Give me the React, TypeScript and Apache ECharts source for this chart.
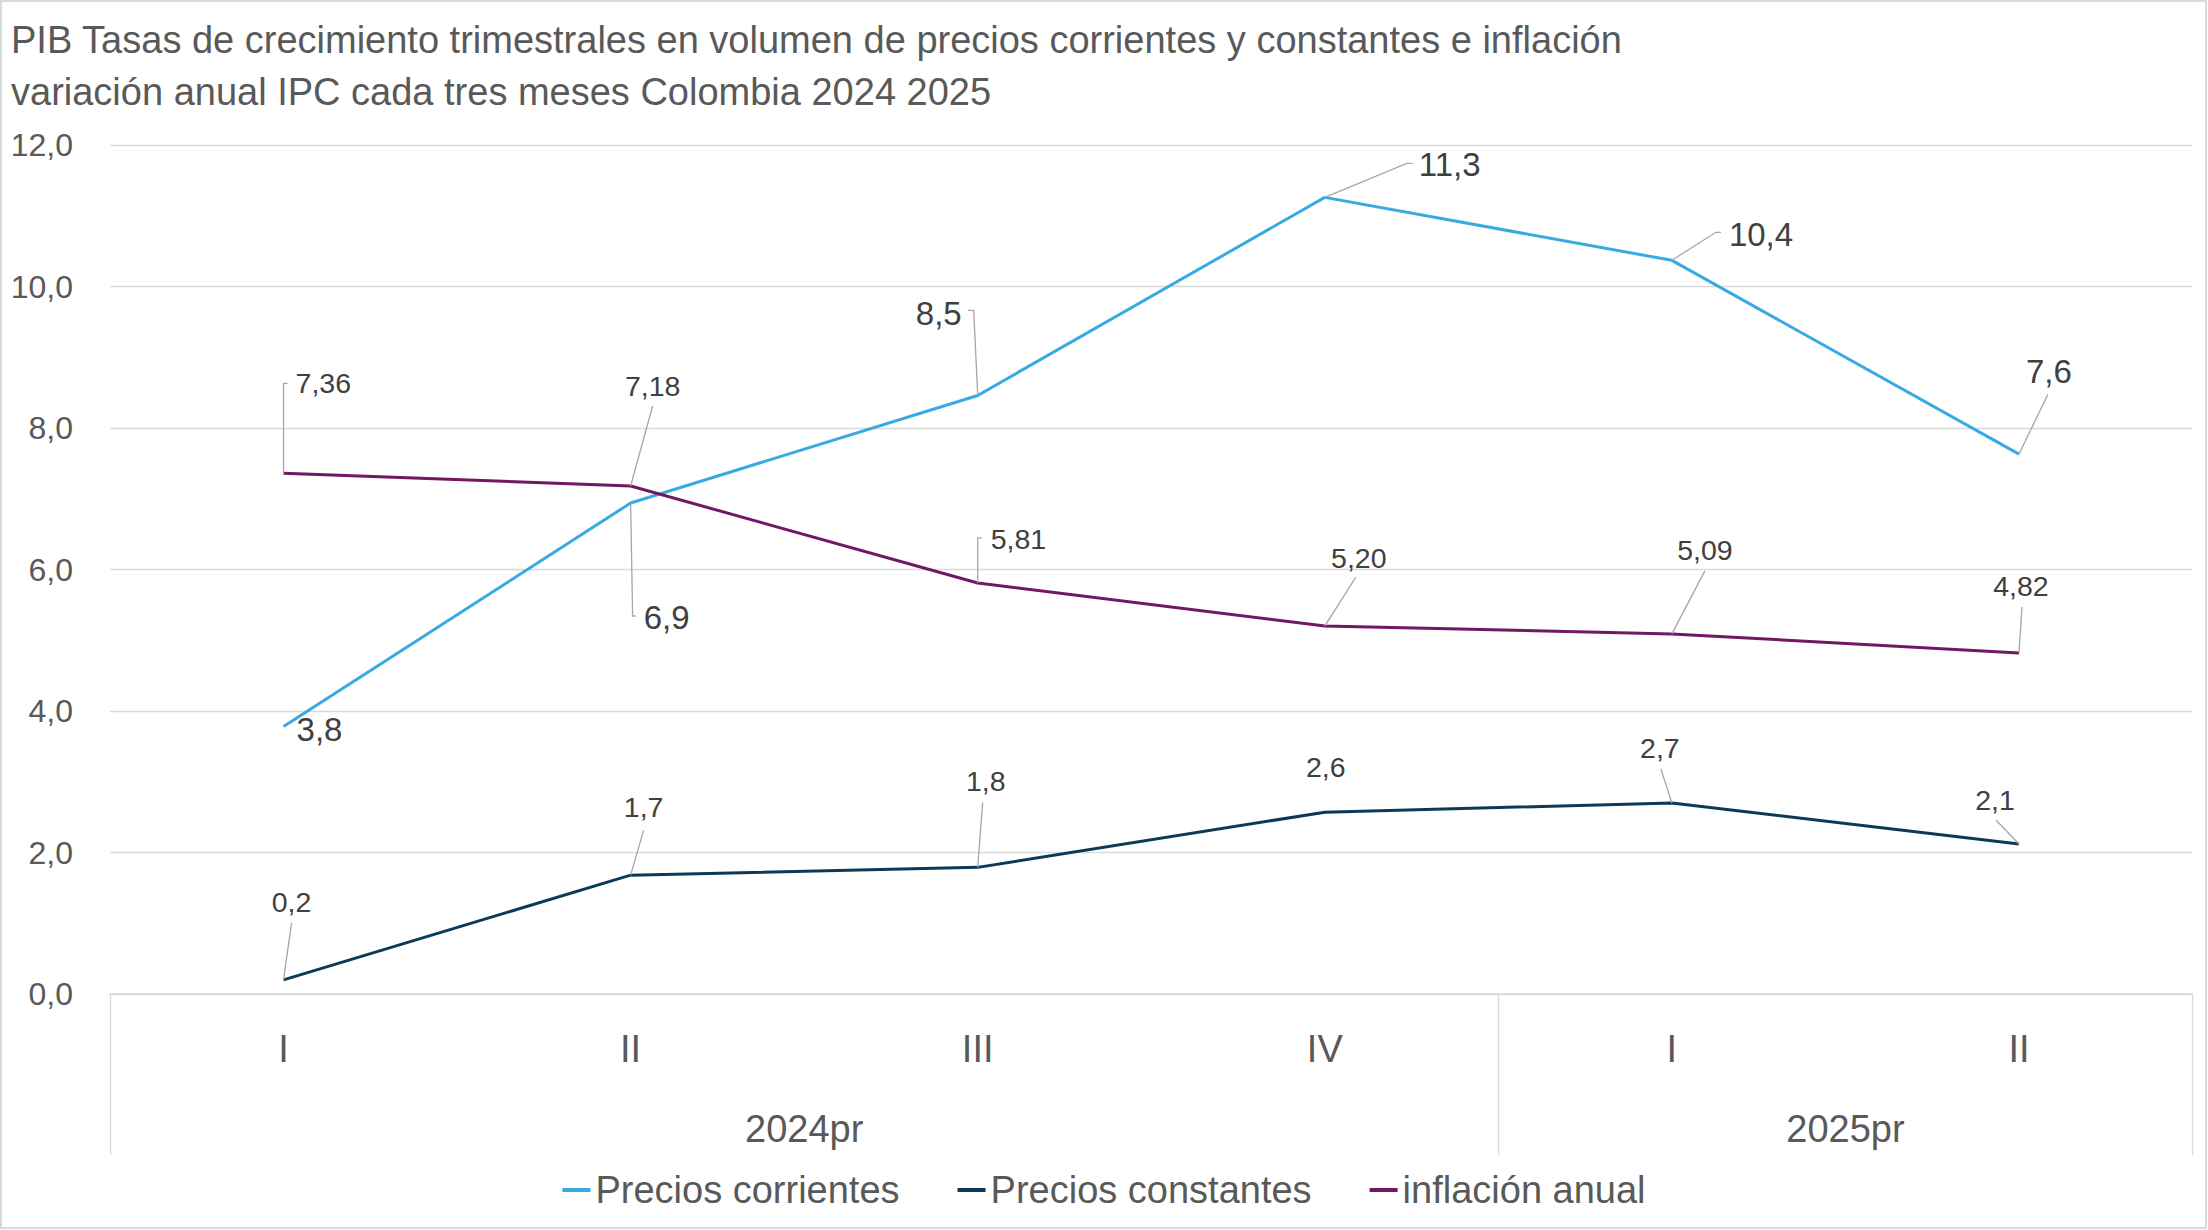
import React, { useEffect, useRef } from "react";
import * as echarts from "echarts";

// ---------- data ----------
const quarters = ["I", "II", "III", "IV", "I", "II"];
const yearGroups = ["2024pr", "2025pr"];
const yearSpans = [4, 2];
const seriesNames = ["Precios corrientes", "Precios constantes", "inflación anual"];
const preciosCorrientes = [3.78, 6.94, 8.46, 11.26, 10.37, 7.63];
const preciosConstantes = [0.2, 1.68, 1.79, 2.57, 2.7, 2.12];
const inflacionAnual = [7.36, 7.18, 5.81, 5.2, 5.09, 4.82];
const labelDecimals = [1, 1, 2];
const yMin = 0;
const yMax = 12;
const yInterval = 2;

const titleText =
  "PIB Tasas de crecimiento trimestrales en volumen de precios corrientes y constantes e inflación\nvariación anual IPC cada tres meses Colombia 2024 2025";

// ---------- styles / label layout (pixel offsets from each point) ----------
const FONT = "'Liberation Sans', Arial, sans-serif";
const colors = ["#39AAE1", "#0C3A56", "#701864"];
const labelFontSizes = [33, 28.5, 28.5];

type Lay = { tx: number; ty: number; align: "left" | "center" | "right"; leader?: number[][] };
const layouts: Lay[][] = [
  [
    { tx: 13, ty: 3, align: "left" },
    { tx: 13, ty: 115, align: "left", leader: [[0, 0], [2, 113], [5, 113]] },
    { tx: -16, ty: -82, align: "right", leader: [[0, 0], [-4, -85], [-10, -85]] },
    { tx: 94, ty: -33, align: "left", leader: [[0, 0], [82, -34], [88, -34]] },
    { tx: 57, ty: -26, align: "left", leader: [[0, 0], [44, -28], [49, -28]] },
    { tx: 30, ty: -83, align: "center", leader: [[0, 0], [29, -60]] },
  ],
  [
    { tx: 8, ty: -78, align: "center", leader: [[0, 0], [8, -57]] },
    { tx: 13, ty: -68, align: "center", leader: [[0, 0], [13, -45]] },
    { tx: 8, ty: -86, align: "center", leader: [[0, 0], [5, -65]] },
    { tx: 1, ty: -45, align: "center" },
    { tx: -12, ty: -55, align: "center", leader: [[0, 0], [-11, -34]] },
    { tx: -24, ty: -44, align: "center", leader: [[0, 0], [-23, -24]] },
  ],
  [
    { tx: 12, ty: -90, align: "left", leader: [[0, 0], [0, -90], [4, -90]] },
    { tx: 22, ty: -100, align: "center", leader: [[0, 0], [22, -80]] },
    { tx: 13, ty: -44, align: "left", leader: [[0, 0], [0, -45], [4, -45]] },
    { tx: 34, ty: -68, align: "center", leader: [[0, 0], [31, -49]] },
    { tx: 33, ty: -84, align: "center", leader: [[0, 0], [33, -63]] },
    { tx: 2, ty: -67, align: "center", leader: [[0, 0], [3, -46]] },
  ],
];

const fmt = (v: number, d: number) => v.toFixed(d).replace(".", ",");

export default function App() {
  const ref = useRef<HTMLDivElement>(null);

  useEffect(() => {
    document.body.style.margin = "0";
    if (!ref.current) return;
    const chart = echarts.init(ref.current, null, { renderer: "svg" });

    const allSeries = [preciosCorrientes, preciosConstantes, inflacionAnual];

    // group centers and boundaries from spans
    const boundaries: number[] = [-0.5];
    const centers: number[] = [];
    let start = 0;
    yearSpans.forEach((span) => {
      centers.push(start + (span - 1) / 2);
      start += span;
      boundaries.push(start - 0.5);
    });

    const lineSeries = allSeries.map((vals, s) => ({
      type: "line",
      name: seriesNames[s],
      data: vals,
      color: colors[s],
      showSymbol: false,
      symbol: "none",
      lineStyle: { color: colors[s], width: 3 },
      z: 3,
    }));

    const labelSeries = allSeries.map((vals, s) => ({
      type: "custom",
      name: "lbl" + s,
      coordinateSystem: "cartesian2d",
      xAxisIndex: 0,
      yAxisIndex: 0,
      z: 5,
      silent: true,
      data: vals.map((v, i) => [i, v]),
      encode: { x: 0, y: 1 },
      renderItem: (params: any, api: any) => {
        const idx = params.dataIndex;
        const p = api.coord([api.value(0), api.value(1)]);
        const cfg = layouts[s][idx];
        const children: any[] = [];
        if (cfg.leader) {
          children.push({
            type: "polyline",
            shape: { points: cfg.leader.map(([dx, dy]) => [p[0] + dx, p[1] + dy]) },
            style: { stroke: "#A6A6A6", lineWidth: 1.3, fill: null },
          });
        }
        children.push({
          type: "text",
          x: p[0] + cfg.tx,
          y: p[1] + cfg.ty,
          style: {
            text: fmt(vals[idx], labelDecimals[s]),
            fontSize: labelFontSizes[s],
            fontFamily: FONT,
            fill: "#404040",
            align: cfg.align,
            verticalAlign: "middle",
          },
        });
        return { type: "group", children };
      },
    }));

    chart.setOption({
      animation: false,
      backgroundColor: "#FFFFFF",
      textStyle: { fontFamily: FONT },
      title: {
        text: titleText,
        left: 11,
        top: 14,
        padding: 0,
        textStyle: {
          fontSize: 38,
          lineHeight: 52,
          fontWeight: "normal",
          color: "#595959",
          fontFamily: FONT,
        },
      },
      legend: {
        data: seriesNames,
        left: "center",
        top: 1170,
        padding: 0,
        icon: "rect",
        itemWidth: 28,
        itemHeight: 4,
        itemGap: 58,
        textStyle: { fontSize: 38, color: "#595959", fontFamily: FONT, lineHeight: 40 },
      },
      grid: { left: 110, right: 15.5, top: 145, bottom: 236, containLabel: false },
      xAxis: [
        {
          type: "category",
          data: quarters,
          boundaryGap: true,
          position: "bottom",
          axisLine: { show: true, lineStyle: { color: "#D9D9D9", width: 1.5 } },
          axisTick: { show: false },
          axisLabel: {
            fontSize: 38,
            lineHeight: 38,
            color: "#595959",
            margin: 36,
            interval: 0,
            fontFamily: FONT,
          },
        },
        {
          type: "value",
          min: -0.5,
          max: 5.5,
          position: "bottom",
          axisLine: { show: false },
          splitLine: { show: false },
          axisTick: {
            show: true,
            customValues: boundaries,
            length: 161,
            lineStyle: { color: "#D9D9D9", width: 1.3 },
          },
          axisLabel: {
            customValues: centers,
            formatter: (v: number) => {
              const k = centers.findIndex((c) => Math.abs(c - v) < 1e-6);
              return k >= 0 ? yearGroups[k] : "";
            },
            fontSize: 38,
            lineHeight: 38,
            color: "#595959",
            margin: 116,
            fontFamily: FONT,
          },
        },
      ],
      yAxis: {
        type: "value",
        min: yMin,
        max: yMax,
        interval: yInterval,
        axisLine: { show: false },
        axisTick: { show: false },
        splitLine: { lineStyle: { color: "#D9D9D9", width: 1.3 } },
        axisLabel: {
          fontSize: 32,
          color: "#595959",
          margin: 37,
          fontFamily: FONT,
          formatter: (v: number) => fmt(v, 1),
        },
      },
      graphic: [
        {
          type: "rect",
          shape: { x: 1, y: 1, width: 2205, height: 1227 },
          style: { fill: null, stroke: "#D9D9D9", lineWidth: 2 },
          silent: true,
          z: -1,
        },
      ],
      series: [...lineSeries, ...labelSeries],
    });

    return () => chart.dispose();
  }, []);

  return <div ref={ref} style={{ width: 2208, height: 1230 }} />;
}
